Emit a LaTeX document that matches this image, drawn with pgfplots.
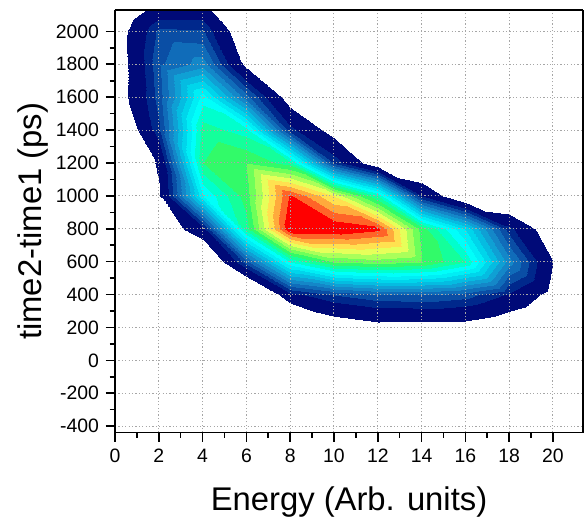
\documentclass[border=0pt]{standalone}
\usepackage{fontspec}
\setmainfont{Liberation Sans}
\usepackage{pgfplots}
\pgfplotsset{compat=1.18}

% banded colormap: white below 0, wide navy band, then blue -> cyan -> green -> yellow -> red
\pgfplotsset{colormap={bands}{
  rgb255(0pt)=(255,255,255)
  rgb255(5pt)=(0,10,120)
  rgb255(7pt)=(0,40,140)
  rgb255(8pt)=(10,78,165)
  rgb255(9pt)=(16,108,185)
  rgb255(10pt)=(20,135,200)
  rgb255(11pt)=(15,160,212)
  rgb255(12pt)=(5,188,225)
  rgb255(13pt)=(0,213,235)
  rgb255(14pt)=(0,238,245)
  rgb255(15pt)=(0,255,250)
  rgb255(16pt)=(0,255,205)
  rgb255(17pt)=(20,255,155)
  rgb255(18pt)=(50,250,105)
  rgb255(19pt)=(110,255,90)
  rgb255(20pt)=(170,255,90)
  rgb255(21pt)=(230,255,90)
  rgb255(22pt)=(255,225,80)
  rgb255(23pt)=(255,170,60)
  rgb255(24pt)=(255,100,40)
  rgb255(25pt)=(255,0,0)
  rgb255(27pt)=(255,0,0)
}}

\begin{document}
\begin{tikzpicture}
\begin{axis}[
  view={0}{90},
  scale only axis,
  width=234pt, height=211.35pt,
  xmin=0, xmax=21.37,
  ymin=-440, ymax=2130,
  xtick={0,2,...,20},
  ytick={-400,-200,...,2000},
  minor x tick num=1,
  minor y tick num=1,
  xtick pos=left, ytick pos=left,
  hide z axis,
  tick align=outside,
  major tick length=4.5pt,
  minor tick length=2.5pt,
  every tick/.style={black, line width=0.8pt},
  axis line style={line width=0.8pt},
  xmajorgrids, ymajorgrids,
  major grid style={gray!70, line width=0.5pt, dash pattern=on 0.6pt off 1.1pt},
  tick label style={font=\fontsize{9.7}{10}\selectfont},
  /pgf/number format/assume math mode=true,
  /pgf/number format/1000 sep={},
  xlabel={Energy (Arb. units)},
  ylabel={time2-time1 (ps)},
  every axis x label/.style={at={(axis description cs:0.5,-0.184)}, anchor=base,
    font=\fontsize{16.4}{18}\selectfont},
  every axis y label/.style={at={(axis description cs:-0.156,0.5)}, rotate=90, anchor=base,
    font=\fontsize{16.4}{18}\selectfont},
  colormap name=bands,
  colormap access=piecewise constant,
  point meta min=-5, point meta max=22,
]
\addplot3[surf, shader=interp] table[x=x, y=y, z=v] {
x y v
0 200 -3
2 200 -3
4 200 -3
6 200 -3
8 200 -4.5
10 200 -1.51
12 200 -0.7
14 200 -0.82
16 200 -0.79
18 200 -1.73
20 200 -3

0 400 -3
2 400 -3
4 400 -3
6 400 -4.5
8 400 1.5
10 400 3.0
12 400 3.8
14 400 4.0
16 400 3.5
18 400 1.8
20 400 -0.77

0 600 -3
2 600 -3
4 600 -3.2
6 600 3.5
8 600 11
10 600 14
12 600 14.5
14 600 14
16 600 12
18 600 5.5
20 600 0.05

0 800 -3
2 800 -1.83
4 800 1.5
6 800 12.5
8 800 21
10 800 21
12 800 20.3
14 800 13.5
16 800 9
18 800 2.5
20 800 -1.67

0 1000 -3
2 1000 -0.2
4 1000 10
6 1000 13.5
8 1000 20.2
10 1000 17
12 1000 12
14 1000 2
16 1000 -2.12
18 1000 -3
20 1000 -3

0 1200 -3
2 1200 0.3
4 1200 13
6 1200 14
8 1200 12.5
10 1200 2.9
12 1200 -1.56
14 1200 -3
16 1200 -3
18 1200 -3
20 1200 -3

0 1400 -2.97
2 1400 2.8
4 1400 12.5
6 1400 11.5
8 1400 2.5
10 1400 -0.92
12 1400 -3
14 1400 -3
16 1400 -3
18 1400 -3
20 1400 -3

0 1600 -1.4
2 1600 3.5
4 1600 10.5
6 1600 4.5
8 1600 -1.12
10 1600 -3
12 1600 -3
14 1600 -3
16 1600 -3
18 1600 -3
20 1600 -3

0 1800 -1.5
2 1800 3.8
4 1800 5.5
6 1800 -0.48
8 1800 -3
10 1800 -3
12 1800 -3
14 1800 -3
16 1800 -3
18 1800 -3
20 1800 -3

0 2000 -1.3
2 2000 3.3
4 2000 3.1
6 2000 -1.94
8 2000 -3
10 2000 -3
12 2000 -3
14 2000 -3
16 2000 -3
18 2000 -3
20 2000 -3

0 2130 -2.4
2 2130 1.0
4 2130 1.0
6 2130 -6
8 2130 -3
10 2130 -3
12 2130 -3
14 2130 -3
16 2130 -3
18 2130 -3
20 2130 -3
};
\draw[black, line width=0.8pt] (rel axis cs:0,0,0) rectangle (rel axis cs:1,1,0);
\coordinate (ll) at (rel axis cs:0,0,0);
\end{axis}
\pgfresetboundingbox
\path[use as bounding box] ([shift={(-57.5pt,-43.15pt)}]ll) rectangle ([shift={(235pt,216.35pt)}]ll);
\end{tikzpicture}
\end{document}
